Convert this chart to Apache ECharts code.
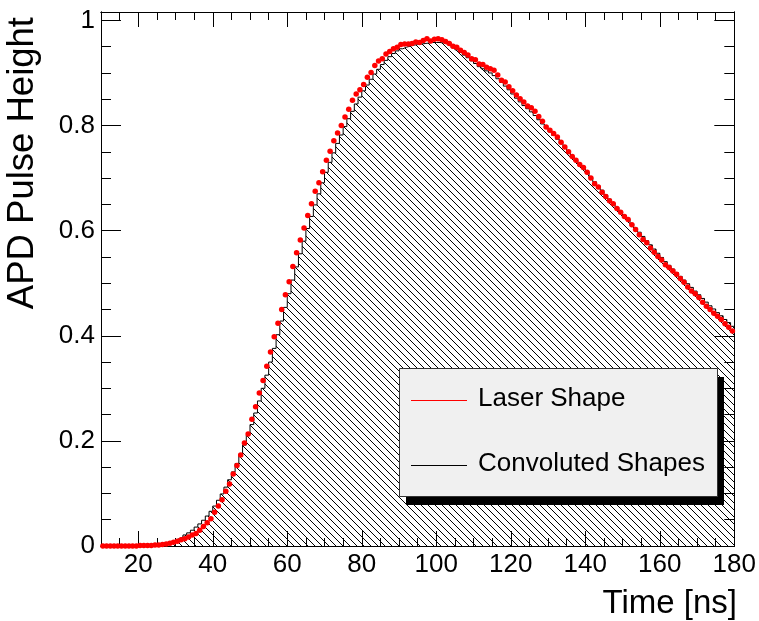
<!DOCTYPE html>
<html>
<head>
<meta charset="utf-8">
<script src="https://cdn.jsdelivr.net/npm/echarts@6/dist/echarts.min.js"></script>
<style>
  html, body { margin: 0; padding: 0; background: #ffffff; }
  #chart { width: 759px; height: 621px; }
</style>
</head>
<body>
<div id="chart"></div>
<script>
// Time binning: 1 ns bins starting at 10 ns
const BIN_LOW = 10;
const BIN_WIDTH = 1;

// Laser pulse shape, one value per bin (10 ns ... 179 ns)
const laserShape = [
  0.000, 0.000, 0.000, 0.000, 0.000, 0.000, 0.000, 0.000, 0.000, 0.000,
  0.001, 0.001, 0.001, 0.001, 0.002, 0.002, 0.003, 0.004, 0.005, 0.007,
  0.009, 0.012, 0.014, 0.017, 0.021, 0.024, 0.030, 0.037, 0.044, 0.052,
  0.064, 0.076, 0.088, 0.104, 0.118, 0.137, 0.153, 0.173, 0.196, 0.213,
  0.241, 0.265, 0.291, 0.315, 0.342, 0.369, 0.398, 0.424, 0.450, 0.478,
  0.503, 0.532, 0.558, 0.582, 0.605, 0.629, 0.651, 0.675, 0.691, 0.712,
  0.734, 0.751, 0.771, 0.786, 0.800, 0.816, 0.831, 0.848, 0.860, 0.868,
  0.878, 0.892, 0.901, 0.914, 0.923, 0.927, 0.936, 0.941, 0.946, 0.949,
  0.954, 0.955, 0.955, 0.956, 0.959, 0.958, 0.962, 0.965, 0.961, 0.964,
  0.965, 0.963, 0.960, 0.956, 0.951, 0.949, 0.943, 0.939, 0.934, 0.927,
  0.925, 0.917, 0.916, 0.911, 0.908, 0.905, 0.896, 0.886, 0.883, 0.874,
  0.866, 0.858, 0.851, 0.845, 0.837, 0.834, 0.827, 0.817, 0.808, 0.797,
  0.791, 0.785, 0.778, 0.768, 0.759, 0.750, 0.741, 0.734, 0.726, 0.720,
  0.711, 0.700, 0.689, 0.683, 0.673, 0.665, 0.657, 0.651, 0.642, 0.635,
  0.627, 0.621, 0.611, 0.602, 0.592, 0.583, 0.577, 0.567, 0.559, 0.551,
  0.544, 0.535, 0.530, 0.523, 0.517, 0.509, 0.502, 0.493, 0.485, 0.480,
  0.473, 0.464, 0.456, 0.450, 0.443, 0.437, 0.431, 0.423, 0.416, 0.409
];

// Convoluted shape histogram contents, same binning
const convolutedShape = [
  0.000, 0.000, 0.000, 0.000, 0.000, 0.000, 0.000, 0.000, 0.000, 0.000,
  0.000, 0.000, 0.000, 0.001, 0.002, 0.003, 0.005, 0.007, 0.009, 0.011,
  0.014, 0.017, 0.021, 0.025, 0.030, 0.036, 0.042, 0.049, 0.057, 0.066,
  0.076, 0.087, 0.099, 0.112, 0.126, 0.141, 0.157, 0.174, 0.192, 0.211,
  0.231, 0.253, 0.276, 0.300, 0.325, 0.350, 0.376, 0.402, 0.428, 0.454,
  0.480, 0.506, 0.531, 0.556, 0.580, 0.604, 0.627, 0.649, 0.670, 0.691,
  0.711, 0.730, 0.748, 0.766, 0.782, 0.798, 0.813, 0.827, 0.841, 0.854,
  0.866, 0.877, 0.888, 0.898, 0.907, 0.916, 0.924, 0.931, 0.937, 0.942,
  0.946, 0.949, 0.951, 0.953, 0.954, 0.955, 0.956, 0.957, 0.958, 0.958,
  0.958, 0.957, 0.955, 0.952, 0.948, 0.944, 0.939, 0.934, 0.929, 0.923,
  0.918, 0.912, 0.908, 0.904, 0.900, 0.895, 0.889, 0.882, 0.875, 0.868,
  0.860, 0.852, 0.845, 0.838, 0.832, 0.826, 0.819, 0.811, 0.803, 0.795,
  0.788, 0.781, 0.774, 0.766, 0.758, 0.749, 0.741, 0.733, 0.726, 0.718,
  0.710, 0.701, 0.693, 0.685, 0.677, 0.668, 0.660, 0.652, 0.644, 0.636,
  0.629, 0.621, 0.613, 0.605, 0.597, 0.589, 0.581, 0.573, 0.565, 0.557,
  0.549, 0.541, 0.534, 0.527, 0.520, 0.513, 0.506, 0.499, 0.492, 0.485,
  0.478, 0.471, 0.464, 0.457, 0.451, 0.444, 0.438, 0.431, 0.425, 0.418
];

// Axis ticks and labels
const xMajorTicks = [20, 40, 60, 80, 100, 120, 140, 160, 180];
const yMajorTicks = [0, 0.2, 0.4, 0.6, 0.8, 1];
const yTickLabels = ['0', '0.2', '0.4', '0.6', '0.8', '1'];

const X_RANGE = [10, 180];
const Y_RANGE = [0, 1.016];

// Secondary ticks: every 5 ns on x, every 0.05 on y
const xMinorTicks = [];
for (let v = 15; v < X_RANGE[1]; v += 5) {
  if (v % 20 !== 0) xMinorTicks.push(v);
}
const yMinorTicks = [];
for (let k = 1; k * 0.05 < Y_RANGE[1]; k++) {
  if (k % 4 !== 0) yMinorTicks.push(+(k * 0.05).toFixed(2));
}

// Histogram drawn as steps on bin low edges, closed at the upper edge
const histPoints = convolutedShape.map((v, i) => [BIN_LOW + i * BIN_WIDTH, v]);
histPoints.push([BIN_LOW + convolutedShape.length * BIN_WIDTH, convolutedShape[convolutedShape.length - 1]]);
// Laser points at bin centres
const laserPoints = laserShape.map((v, i) => [BIN_LOW + (i + 0.5) * BIN_WIDTH, v]);

// Diagonal hatch tile ("\\\\" direction)
function hatchTile(p) {
  const c = document.createElement('canvas');
  c.width = p; c.height = p;
  const g = c.getContext('2d');
  g.strokeStyle = '#000000';
  g.lineWidth = 1;
  g.beginPath();
  g.moveTo(0, 0); g.lineTo(p, p);
  g.moveTo(-1, p - 1); g.lineTo(1, p + 1);
  g.moveTo(p - 1, -1); g.lineTo(p + 1, 1);
  g.stroke();
  return c;
}

const FONT = '"Liberation Sans", Arial, Helvetica, sans-serif';
const black = '#000000';

function xAxisDef(position, ticks, len, withLabels) {
  return {
    type: 'value', position: position, gridIndex: 0,
    min: X_RANGE[0], max: X_RANGE[1], offset: 0,
    axisLine: { show: true, onZero: false, lineStyle: { color: black, width: 1 } },
    axisTick: { show: true, inside: true, length: len, customValues: ticks, lineStyle: { color: black, width: 1 } },
    axisLabel: withLabels ? {
      show: true, customValues: ticks, margin: 6,
      color: black, fontSize: 26, fontFamily: FONT
    } : { show: false },
    splitLine: { show: false },
    minorTick: { show: false }
  };
}
function yAxisDef(position, ticks, len, withLabels) {
  return {
    type: 'value', position: position, gridIndex: 0,
    min: Y_RANGE[0], max: Y_RANGE[1], offset: 0,
    axisLine: { show: true, onZero: false, lineStyle: { color: black, width: 1 } },
    axisTick: { show: true, inside: true, length: len, customValues: ticks, lineStyle: { color: black, width: 1 } },
    axisLabel: withLabels ? {
      show: true, customValues: ticks, margin: 6,
      color: black, fontSize: 26, fontFamily: FONT,
      formatter: v => yTickLabels[yMajorTicks.findIndex(t => Math.abs(t - v) < 1e-6)]
    } : { show: false },
    splitLine: { show: false },
    minorTick: { show: false }
  };
}

const chart = echarts.init(document.getElementById('chart'), null, { renderer: 'canvas' });

chart.setOption({
  animation: false,
  backgroundColor: '#ffffff',
  grid: { left: 101, right: 22, top: 12, bottom: 75, containLabel: false },
  xAxis: [
    xAxisDef('bottom', xMajorTicks, 15, true),
    xAxisDef('bottom', xMinorTicks, 8, false),
    xAxisDef('top', xMajorTicks, 15, false),
    xAxisDef('top', xMinorTicks, 8, false)
  ],
  yAxis: [
    yAxisDef('left', yMajorTicks, 20, true),
    yAxisDef('left', yMinorTicks, 10, false),
    yAxisDef('right', yMajorTicks, 20, false),
    yAxisDef('right', yMinorTicks, 10, false)
  ],
  series: [
    {
      name: 'Convoluted Shapes',
      type: 'line',
      xAxisIndex: 0, yAxisIndex: 0,
      step: 'end',
      data: histPoints,
      symbol: 'none',
      lineStyle: { color: black, width: 1 },
      areaStyle: { color: { image: hatchTile(7), repeat: 'repeat' }, opacity: 1 },
      z: 2
    },
    {
      name: 'Laser Shape',
      type: 'scatter',
      xAxisIndex: 0, yAxisIndex: 0,
      data: laserPoints,
      symbol: 'circle',
      symbolSize: 5.5,
      itemStyle: { color: '#ff0000', opacity: 1 },
      z: 3
    }
  ],
  graphic: [
    // axis titles
    {
      type: 'text', x: 737, y: 620,
      style: { text: 'Time [ns]', font: '33px ' + FONT, fill: black, align: 'right', verticalAlign: 'bottom' }
    },
    {
      type: 'text', x: 4, y: 17, rotation: Math.PI / 2,
      style: { text: 'APD Pulse Height', font: '36.5px ' + FONT, fill: black, align: 'right', verticalAlign: 'top' }
    },
    // legend box with shadow
    { type: 'rect', shape: { x: 406, y: 377, width: 318, height: 128 }, style: { fill: black }, z: 10 },
    { type: 'rect', shape: { x: 399.5, y: 368.5, width: 318, height: 128 }, style: { fill: '#f0f0f0', stroke: '#333333', lineWidth: 1 }, z: 11 },
    { type: 'line', shape: { x1: 411, y1: 400.5, x2: 467, y2: 400.5 }, style: { stroke: '#ff0000', lineWidth: 1 }, z: 12 },
    { type: 'line', shape: { x1: 411, y1: 465.5, x2: 467, y2: 465.5 }, style: { stroke: black, lineWidth: 1 }, z: 12 },
    { type: 'text', x: 478, y: 399, z: 12,
      style: { text: 'Laser Shape', font: '26px ' + FONT, fill: black, align: 'left', verticalAlign: 'middle' } },
    { type: 'text', x: 478, y: 464, z: 12,
      style: { text: 'Convoluted Shapes', font: '26px ' + FONT, fill: black, align: 'left', verticalAlign: 'middle' } }
  ]
});
</script>
</body>
</html>
